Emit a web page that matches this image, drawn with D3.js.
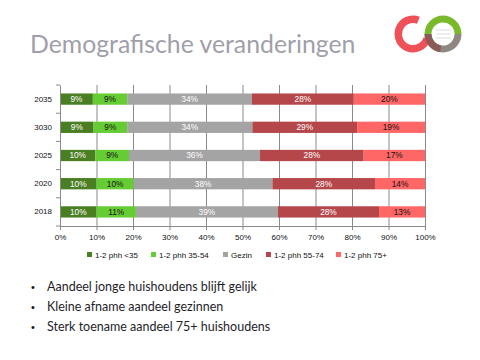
<!DOCTYPE html>
<html><head><meta charset="utf-8">
<script src="https://cdn.jsdelivr.net/npm/d3@7"></script>
<style>html,body{margin:0;padding:0;background:#fff;}svg{display:block;}</style>
</head><body>
<script>
const years = ["2035", "3030", "2025", "2020", "2018"];
const seriesNames = ["1-2 phh <35", "1-2 phh 35-54", "Gezin", "1-2 phh 55-74", "1-2 phh 75+"];
const seriesColors = ["#4a7e22", "#66cc33", "#a5a4a5", "#b5474b", "#ff6666"];
const labelColors = ["#ffffff", "#111111", "#ffffff", "#ffffff", "#111111"];
const s_lt35 = [9.0, 9.2, 9.7, 10.0, 10.0];
const s_35_54 = [9.4, 9.2, 9.2, 10.2, 10.8];
const s_gezin = [34.2, 34.3, 35.9, 38.0, 38.9];
const s_55_74 = [27.9, 28.7, 28.4, 28.1, 27.7];
const s_75plus = [19.5, 18.6, 16.8, 13.7, 12.6];
const xTicks = [0, 10, 20, 30, 40, 50, 60, 70, 80, 90, 100];
const title = "Demografische veranderingen";
const bullets = ["Aandeel  jonge huishoudens blijft gelijk", "Kleine afname  aandeel gezinnen", "Sterk toename  aandeel 75+ huishoudens"];

const seriesVals = [s_lt35, s_35_54, s_gezin, s_55_74, s_75plus];
const rows = years.map((y, i) => {
  const r = {year: y};
  seriesNames.forEach((s, j) => r[s] = seriesVals[j][i]);
  return r;
});
const stacked = d3.stack().keys(seriesNames)(rows);

const W = 480, H = 360;
const svg = d3.select("body").append("svg").attr("width", W).attr("height", H);
const font = "Liberation Sans, Arial, sans-serif";

svg.append("text").attr("x", 30).attr("y", 53).text(title)
  .attr("font-family", "Lato, sans-serif").attr("font-size", 24.8).attr("fill", "#a09fa9");

// logo
const lg = svg.append("g");
const ringR = d3.arc().innerRadius(11.5).outerRadius(18.5);
lg.append("path").attr("transform", "translate(443,34)")
  .attr("d", ringR({startAngle: -Math.PI / 2, endAngle: Math.PI / 2})).attr("fill", "#7ab929");
lg.append("path").attr("transform", "translate(443,34)")
  .attr("d", ringR({startAngle: Math.PI / 2, endAngle: 3 * Math.PI / 2})).attr("fill", "#8e8782");
lg.append("path").attr("transform", "translate(413,34)")
  .attr("d", d3.arc().innerRadius(11).outerRadius(18.5)({startAngle: Math.PI * 0.6, endAngle: Math.PI * 2.12}))
  .attr("fill", "#ee4850").attr("opacity", 0.95);
lg.append("path").attr("transform", "translate(443,34)")
  .attr("d", ringR({startAngle: Math.PI * 1.05, endAngle: Math.PI * 1.5})).attr("fill", "#8b5550").attr("opacity", 0.85);
[30, 34, 38].forEach(yy => lg.append("line").attr("x1", 436).attr("x2", 451).attr("y1", yy).attr("y2", yy)
  .attr("stroke", "#d0d0d0").attr("stroke-width", 0.8));

const x = d3.scaleLinear().domain([0, 100]).range([60, 425]);
const y = d3.scaleBand().domain(years).range([85, 226]).paddingInner(0.6).paddingOuter(0.3);

const g = svg.append("g");
// gridlines
g.selectAll("line.grid").data(xTicks.slice(1)).join("line")
  .attr("x1", d => x(d) + 0.5).attr("x2", d => x(d) + 0.5).attr("y1", 85).attr("y2", 226)
  .attr("stroke", "#8a8a8a").attr("stroke-width", 1);

stacked.forEach((layer, j) => {
  g.selectAll("rect.s" + j).data(layer).join("rect")
    .attr("x", d => x(d[0])).attr("width", d => x(d[1]) - x(d[0]))
    .attr("y", (d, i) => y(years[i])).attr("height", y.bandwidth())
    .attr("fill", seriesColors[j]);
  g.selectAll("text.l" + j).data(layer).join("text")
    .attr("x", d => (x(d[0]) + x(d[1])) / 2).attr("y", (d, i) => y(years[i]) + y.bandwidth() / 2)
    .attr("dy", "0.35em").attr("text-anchor", "middle")
    .attr("font-family", font).attr("font-size", 8.3).attr("fill", labelColors[j])
    .text(d => Math.round(d[1] - d[0]) + "%");
});

// axes
const xa = svg.append("g").attr("transform", "translate(0,226)")
  .call(d3.axisBottom(x).tickValues(xTicks).tickFormat(d => d + "%").tickSize(4).tickSizeOuter(0));
xa.select(".domain").attr("stroke", "#8a8a8a");
xa.selectAll(".tick line").attr("stroke", "#8a8a8a");
xa.selectAll("text").attr("font-family", font).attr("font-size", 8).attr("fill", "#111").attr("dy", "0.9em");

const ya = svg.append("g").attr("transform", "translate(60,0)")
  .call(d3.axisLeft(y).tickSize(0).tickPadding(8));
ya.select(".domain").attr("stroke", "#8a8a8a");
ya.selectAll("text").attr("font-family", font).attr("font-size", 8).attr("fill", "#111");
const bounds = d3.range(years.length + 1).map(i => 85 + i * (226 - 85) / years.length);
ya.selectAll("line.bt").data(bounds).join("line").attr("class", "bt")
  .attr("x1", -4).attr("x2", 0).attr("y1", d => d).attr("y2", d => d).attr("stroke", "#8a8a8a");

// legend
const legX = [87, 151, 223, 266, 336];
const leg = svg.append("g");
seriesNames.forEach((s, j) => {
  leg.append("rect").attr("x", legX[j]).attr("y", 252).attr("width", 5).attr("height", 5).attr("fill", seriesColors[j]);
  leg.append("text").attr("x", legX[j] + 8).attr("y", 255).attr("dy", "0.35em")
    .attr("font-family", font).attr("font-size", 8).attr("fill", "#111").text(s);
});

// bullets
bullets.forEach((b, i) => {
  const yy = 291 + i * 20;
  svg.append("text").attr("x", 31).attr("y", yy).text("•").attr("font-family", font).attr("font-size", 11).attr("fill", "#111");
  svg.append("text").attr("x", 47).attr("y", yy).text(b).attr("font-family", "Lato, sans-serif").attr("font-size", 12.5).attr("fill", "#1e1e2a");
});
</script>
</body></html>
